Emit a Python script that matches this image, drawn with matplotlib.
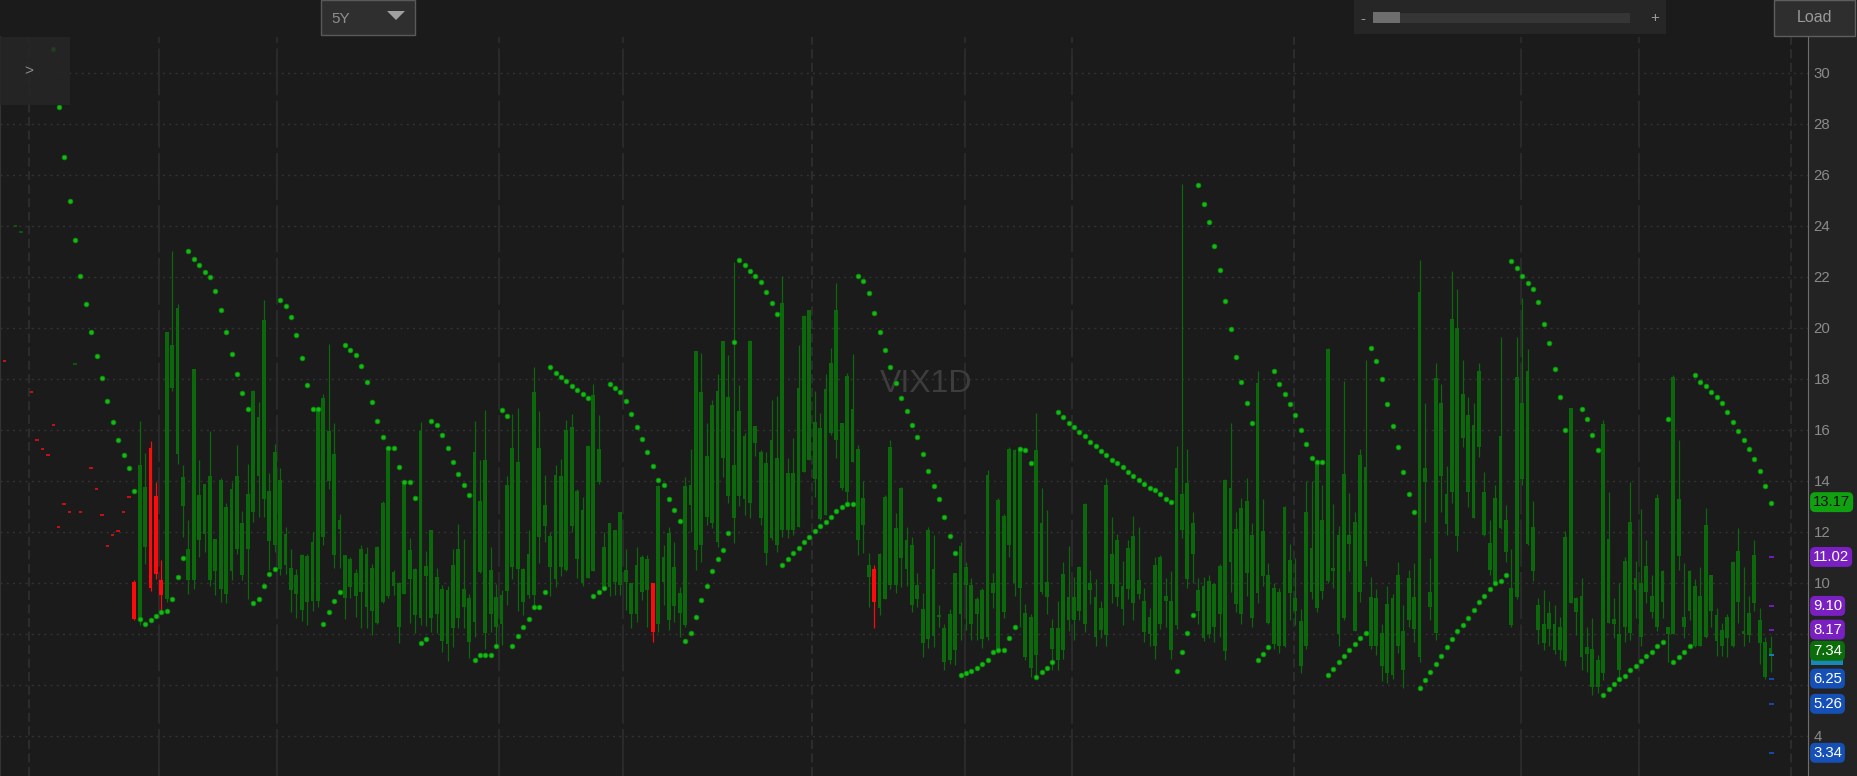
import numpy as np
import matplotlib.pyplot as plt
from matplotlib.patches import Rectangle, Polygon
from matplotlib.transforms import blended_transform_factory

plt.rcParams['font.family'] = ['Liberation Sans', 'DejaVu Sans']

W, H, DPI = 1857, 776, 100

# daily VIX1D candles, bar 0 = first bar on screen
highs = [
    10.1, 16.36, 15.1, 15.55, 13.97, 10.9, 19.85, 23.0, 20.95, 14.63,
    12.48, 18.4, 14.82, 13.9, 15.94, 11.74, 14.1, 13.14, 13.95, 15.4,
    12.84, 14.66, 17.57, 17.1, 21.1, 14.31, 15.45, 14.5, 12.2, 11.32,
    10.56, 11.15, 11.15, 12.0, 16.88, 17.4, 19.38, 16.27, 12.7, 11.1,
    11.0, 10.56, 11.47, 11.41, 10.76, 11.43, 13.2, 15.38, 10.5, 10.04,
    13.97, 11.76, 10.6, 16.3, 11.24, 12.08, 10.59, 9.91, 9.89, 11.34,
    12.32, 11.74, 9.55, 16.36, 14.83, 16.8, 11.41, 9.94, 9.72, 14.2,
    16.62, 16.88, 10.59, 12.06, 18.47, 16.75, 14.23, 12.0, 14.63, 14.88,
    16.38, 16.62, 13.69, 13.36, 15.4, 17.8, 16.58, 12.0, 12.36, 12.06,
    12.78, 11.32, 9.98, 11.41, 11.1, 11.1, 10.0, 13.85, 11.49, 12.2,
    11.62, 9.85, 14.17, 15.25, 19.08, 19.0, 16.27, 17.16, 18.2, 19.47,
    18.95, 22.6, 17.77, 15.9, 19.54, 16.14, 15.22, 15.15, 17.18, 17.35,
    22.05, 14.89, 15.68, 19.34, 20.52, 20.72, 17.51, 16.66, 18.2, 19.21,
    21.76, 16.27, 18.23, 18.99, 15.42, 13.98, 11.19, 10.7, 11.16, 13.45,
    15.61, 12.73, 13.78, 12.21, 11.82, 10.38, 9.59, 12.21, 11.88, 9.13,
    8.41, 8.96, 10.4, 11.62, 10.84, 10.18, 9.46, 9.79, 14.43, 10.4,
    13.35, 12.7, 15.32, 15.24, 15.39, 9.17, 8.78, 16.67, 13.72, 12.85,
    8.59, 9.31, 10.81, 11.44, 10.23, 10.67, 13.14, 10.52, 10.16, 9.31,
    14.11, 12.6, 11.93, 10.85, 11.68, 12.63, 12.19, 9.79, 9.02, 11.0,
    11.1, 10.18, 10.45, 15.39, 25.64, 15.24, 12.77, 10.18, 10.23, 10.3,
    9.98, 10.74, 14.08, 16.26, 12.77, 13.33, 14.11, 12.34, 18.3, 13.28,
    10.77, 10.01, 9.79, 13.03, 11.54, 10.96, 8.99, 14.0, 14.0, 14.81,
    13.86, 19.2, 13.09, 12.22, 17.93, 13.53, 12.77, 15.27, 18.73, 10.23,
    9.75, 8.41, 9.87, 9.58, 10.81, 9.14, 10.52, 10.77, 22.65, 17.06,
    10.96, 18.62, 17.79, 14.59, 22.22, 21.52, 18.73, 17.31, 17.06, 18.62,
    14.37, 12.48, 13.86, 19.63, 13.06, 11.35, 19.63, 21.17, 19.17, 13.21,
    9.4, 9.72, 9.31, 9.14, 8.67, 12.05, 16.87, 9.43, 10.19, 8.27,
    8.63, 7.18, 16.38, 13.57, 9.4, 9.98, 11.03, 13.97, 10.88, 12.92,
    11.68, 10.3, 13.47, 10.52, 8.27, 18.15, 15.61, 10.77, 10.52, 10.16,
    10.62, 12.95, 10.33, 9.0, 8.44, 8.78, 10.88, 12.16, 10.62, 9.5,
    11.68, 9.0, 7.89, 7.93,
]
lows = [
    8.55, 8.35, 10.75, 9.67, 10.17, 8.93, 9.26, 17.53, 14.66, 11.8,
    9.55, 9.78, 11.0, 11.2, 9.88, 9.52, 9.26, 9.2, 10.1, 11.15,
    10.1, 9.39, 12.41, 12.58, 12.58, 10.5, 11.2, 10.3, 10.37, 8.87,
    8.63, 8.5, 8.35, 8.9, 9.07, 11.47, 13.7, 10.6, 10.6, 8.58,
    9.4, 8.67, 8.22, 8.22, 7.96, 8.4, 9.2, 9.4, 9.52, 7.63,
    9.56, 8.42, 8.02, 8.35, 8.32, 8.09, 8.02, 7.28, 6.94, 7.5,
    8.22, 8.22, 7.04, 7.9, 10.4, 7.4, 8.09, 7.53, 7.57, 9.13,
    10.17, 8.9, 8.74, 9.4, 9.02, 10.78, 11.6, 9.5, 9.85, 10.28,
    10.46, 12.0, 10.2, 9.88, 10.2, 10.46, 13.88, 9.72, 9.48, 9.52,
    9.52, 8.93, 8.22, 8.48, 9.33, 8.28, 7.7, 8.09, 9.13, 8.15,
    8.48, 7.89, 8.28, 12.0, 10.5, 10.83, 12.27, 12.14, 11.42, 14.17,
    13.13, 11.55, 13.0, 12.67, 12.54, 14.96, 12.27, 10.7, 11.68, 11.23,
    11.81, 11.75, 11.88, 12.21, 14.37, 14.83, 13.39, 12.47, 12.67, 15.81,
    14.89, 13.65, 13.13, 14.76, 11.1, 11.16, 9.07, 8.22, 8.74, 9.39,
    9.75, 9.6, 9.86, 9.88, 8.87, 9.07, 7.1, 7.43, 7.5, 8.28,
    6.58, 6.84, 6.78, 7.76, 8.15, 7.76, 7.76, 7.43, 7.76, 9.0,
    7.25, 8.63, 11.03, 9.5, 8.27, 6.96, 6.31, 6.38, 9.58, 8.78,
    6.6, 6.6, 7.03, 8.12, 7.76, 8.53, 8.09, 9.17, 7.54, 7.83,
    7.54, 9.21, 9.11, 8.34, 9.36, 8.56, 9.36, 7.69, 7.54, 7.03,
    8.2, 8.27, 7.03, 8.2, 11.76, 9.79, 9.98, 8.41, 7.72, 7.86,
    7.69, 7.9, 6.99, 9.65, 8.85, 8.38, 9.5, 8.27, 9.21, 9.87,
    8.41, 7.4, 7.25, 7.47, 8.56, 8.34, 6.45, 7.4, 9.36, 8.85,
    9.36, 10.01, 9.79, 7.54, 8.56, 10.45, 8.12, 9.26, 10.67, 7.4,
    7.18, 6.16, 6.09, 6.23, 7.25, 5.87, 8.27, 7.69, 6.89, 12.41,
    8.56, 7.76, 12.8, 11.9, 13.14, 11.25, 15.32, 12.99, 12.56, 14.95,
    11.83, 10.3, 9.94, 12.12, 10.81, 8.27, 9.36, 13.86, 11.49, 10.08,
    7.61, 7.37, 7.54, 7.22, 6.99, 6.74, 9.21, 7.95, 6.6, 6.52,
    5.62, 5.68, 6.2, 8.44, 7.86, 6.16, 7.69, 7.76, 8.63, 7.54,
    9.21, 8.63, 8.12, 8.63, 6.89, 7.98, 10.52, 7.86, 8.53, 7.47,
    7.54, 7.86, 8.27, 7.13, 7.13, 7.08, 7.47, 8.44, 7.54, 7.69,
    8.92, 6.81, 6.24, 6.52,
]
body_top = [
    10.04, 14.63, 13.75, 15.3, 13.4, 10.13, 19.85, 19.35, 20.8, 14.17,
    11.34, 18.4, 13.43, 13.9, 14.18, 11.74, 14.04, 12.97, 13.7, 14.2,
    12.36, 13.47, 17.53, 16.5, 20.33, 13.6, 15.15, 14.04, 11.93, 10.6,
    10.33, 11.08, 11.05, 11.6, 16.88, 17.24, 15.94, 15.05, 12.45, 11.08,
    10.95, 10.4, 11.34, 11.15, 10.6, 11.4, 13.14, 15.3, 10.43, 10.0,
    13.97, 11.3, 10.56, 15.94, 10.67, 12.08, 10.24, 9.78, 9.72, 10.72,
    11.32, 9.78, 9.42, 15.15, 13.2, 14.82, 10.5, 9.46, 9.52, 13.84,
    15.31, 14.73, 10.56, 11.15, 17.49, 15.31, 13.04, 11.83, 14.25, 14.2,
    15.99, 16.13, 13.6, 12.87, 15.38, 17.36, 15.25, 11.41, 12.36, 12.06,
    12.78, 10.52, 9.98, 10.72, 11.03, 10.93, 10.0, 13.8, 11.03, 11.95,
    10.61, 9.62, 13.81, 13.85, 19.08, 17.47, 14.96, 16.99, 17.51, 19.47,
    17.31, 14.63, 16.76, 15.77, 19.47, 16.14, 15.15, 14.7, 15.61, 14.89,
    20.98, 14.3, 14.33, 17.64, 20.46, 20.69, 16.33, 16.07, 17.6, 18.62,
    20.72, 16.27, 18.13, 16.82, 15.25, 13.32, 10.7, 10.53, 11.14, 13.36,
    15.35, 12.14, 13.72, 11.69, 11.49, 9.92, 8.96, 12.08, 10.53, 8.74,
    8.22, 8.8, 10.4, 11.45, 10.61, 9.92, 9.39, 9.72, 14.24, 10.0,
    13.24, 12.63, 15.27, 15.22, 15.32, 8.82, 8.67, 15.22, 12.37, 10.04,
    8.24, 8.24, 10.37, 9.46, 9.46, 10.62, 13.09, 9.98, 9.46, 9.02,
    13.86, 11.15, 11.68, 9.89, 11.39, 11.83, 10.13, 9.31, 8.67, 10.71,
    11.03, 9.5, 9.31, 14.49, 13.47, 13.91, 12.37, 9.72, 9.87, 10.08,
    9.94, 10.67, 14.05, 13.72, 12.12, 12.95, 13.21, 11.87, 17.83, 12.05,
    10.3, 9.79, 9.65, 12.99, 10.91, 9.4, 8.49, 12.8, 11.39, 14.69,
    12.48, 19.18, 10.59, 11.87, 14.26, 11.87, 12.41, 15.03, 14.55, 9.46,
    9.4, 8.05, 9.17, 9.4, 10.33, 8.12, 10.19, 9.46, 21.42, 14.49,
    9.65, 18.03, 17.06, 13.47, 20.36, 20.01, 17.4, 16.58, 16.19, 18.33,
    13.57, 11.58, 13.33, 15.75, 12.48, 9.79, 18.08, 17.06, 18.33, 12.19,
    9.14, 8.38, 8.82, 8.41, 8.27, 11.79, 16.87, 9.4, 9.5, 7.47,
    7.42, 6.99, 16.23, 11.73, 8.59, 8.0, 10.88, 12.41, 10.19, 9.98,
    10.67, 9.5, 13.33, 10.48, 8.27, 18.08, 13.28, 8.67, 10.48, 9.87,
    9.5, 12.27, 10.3, 8.73, 8.15, 8.67, 10.81, 11.25, 8.12, 8.82,
    11.1, 8.53, 7.69, 7.45,
]
body_bot = [
    8.58, 8.58, 11.4, 9.8, 10.37, 9.52, 9.36, 17.63, 15.05, 13.0,
    10.13, 10.1, 11.67, 11.93, 10.1, 10.46, 9.78, 9.55, 10.46, 11.34,
    10.3, 11.34, 12.78, 14.2, 13.3, 11.63, 11.5, 10.54, 10.7, 9.72,
    9.55, 8.93, 9.26, 9.29, 9.29, 11.8, 14.0, 11.1, 12.1, 9.4,
    9.85, 9.48, 9.65, 9.07, 8.9, 8.42, 9.26, 9.5, 9.9, 8.29,
    9.56, 10.17, 8.74, 8.63, 10.27, 8.63, 8.78, 7.72, 7.59, 8.22,
    8.63, 9.07, 7.7, 8.48, 10.43, 8.05, 8.8, 8.29, 8.41, 9.67,
    10.63, 10.54, 9.26, 9.52, 9.52, 11.8, 12.22, 10.63, 10.17, 10.63,
    10.5, 12.25, 10.95, 10.0, 10.21, 10.46, 13.95, 9.8, 9.85, 10.04,
    9.91, 10.04, 8.8, 8.8, 9.66, 9.72, 8.09, 8.41, 10.05, 8.54,
    9.09, 8.83, 8.35, 13.06, 11.3, 11.49, 12.6, 12.34, 11.62, 14.89,
    13.41, 12.54, 13.41, 13.28, 13.13, 15.48, 12.54, 11.16, 11.75, 11.49,
    12.08, 12.08, 12.08, 12.21, 14.37, 14.83, 14.07, 12.5, 12.67, 15.87,
    15.61, 13.72, 13.58, 14.76, 11.69, 12.27, 10.25, 9.27, 9.0, 9.39,
    9.92, 9.92, 10.96, 10.54, 9.13, 9.39, 7.65, 7.82, 7.92, 8.67,
    6.91, 6.97, 7.37, 8.8, 9.92, 8.41, 8.8, 7.82, 7.89, 9.6,
    7.32, 8.85, 11.47, 9.98, 9.79, 7.1, 6.67, 7.18, 9.65, 9.46,
    7.4, 6.99, 7.37, 8.56, 8.56, 8.92, 8.38, 9.72, 7.9, 8.15,
    7.95, 9.94, 9.43, 8.99, 9.75, 9.21, 9.58, 8.09, 7.98, 7.51,
    8.41, 9.31, 7.37, 8.34, 12.08, 10.16, 11.15, 8.92, 7.83, 7.98,
    8.27, 8.78, 7.32, 10.81, 9.17, 8.78, 10.38, 8.63, 9.6, 10.27,
    8.44, 7.61, 7.54, 7.54, 9.6, 8.92, 6.74, 7.51, 9.65, 9.0,
    9.69, 10.08, 10.45, 7.98, 8.63, 11.54, 8.12, 9.65, 10.85, 7.54,
    7.51, 6.74, 6.45, 6.41, 7.54, 6.6, 8.56, 8.2, 7.08, 13.94,
    9.07, 8.05, 14.2, 12.31, 13.57, 11.83, 15.68, 13.57, 12.56, 15.32,
    11.9, 10.52, 10.01, 12.16, 11.2, 8.34, 9.43, 14.08, 11.54, 10.45,
    8.15, 7.66, 8.2, 7.37, 7.37, 6.93, 9.21, 8.88, 7.08, 7.22,
    5.91, 5.91, 6.45, 8.44, 8.41, 6.6, 8.27, 8.05, 9.72, 7.9,
    9.65, 8.88, 8.27, 9.26, 7.98, 7.98, 11.06, 8.27, 8.92, 7.54,
    7.54, 7.9, 8.92, 7.72, 7.51, 7.83, 7.54, 9.26, 7.98, 7.95,
    9.21, 7.66, 6.32, 7.22,
]
down_bars = [0, 3, 4, 5, 96, 137]

# parabolic SAR dots, first value belongs to bar -15
sar_first = -15
sar = [
    30.94, 28.67, 26.71, 24.98, 23.44, 22.05, 20.93, 19.86, 18.89, 18.04,
    17.15, 16.3, 15.62, 15.02, 14.5,
    13.6, 8.58, 8.39, 8.55, 8.7, 8.86, 8.91, 9.39, 10.22, 10.97,
    23.0, 22.72, 22.45, 22.2, 21.98, 21.46, 20.72, 19.83, 18.97, 18.19,
    17.45, 16.83, 9.22, 9.39, 9.87, 10.34, 10.54, 21.08, 20.88, 20.42,
    19.72, 18.82, 17.76, 16.83, 16.83, 8.39, 8.86, 9.29, 9.64, 19.35,
    19.13, 18.93, 18.5, 17.88, 17.09, 16.36, 15.72, 15.3, 15.3, 14.56,
    13.97, 13.97, 13.35, 7.65, 7.8, 16.36, 16.19, 15.81, 15.3, 14.76,
    14.29, 13.86, 13.45, 6.96, 7.18, 7.18, 7.18, 7.53, 16.77, 16.55,
    7.53, 7.92, 8.26, 8.58, 9.07, 9.07, 9.64, 18.47, 18.24, 18.08,
    17.92, 17.72, 17.55, 17.4, 17.24, 9.48, 9.64, 9.81, 17.81, 17.66,
    17.49, 17.14, 16.62, 16.12, 15.63, 15.15, 14.57, 14.04, 13.83, 13.31,
    12.88, 12.44, 7.73, 8.05, 8.67, 9.33, 9.9, 10.48, 10.95, 11.28,
    11.97, 19.45, 22.68, 22.46, 22.25, 22.04, 21.82, 21.4, 20.98, 20.56,
    10.7, 10.95, 11.19, 11.38, 11.61, 11.82, 12.04, 12.24, 12.41, 12.6,
    12.82, 12.99, 13.09, 13.09, 22.05, 21.83, 21.36, 20.57, 19.83, 19.12,
    18.45, 17.86, 17.27, 16.75, 16.21, 15.74, 15.04, 14.41, 13.82, 13.31,
    12.6, 11.86, 11.19, 6.4, 6.47, 6.55, 6.65, 6.84, 6.96, 7.28,
    7.37, 7.37, 7.86, 8.27, 15.27, 15.22, 14.69, 6.3, 6.52, 6.67,
    6.89, 16.7, 16.49, 16.26, 16.12, 15.91, 15.75, 15.53, 15.36, 15.16,
    15.0, 14.84, 14.69, 14.55, 14.37, 14.2, 14.04, 13.89, 13.73, 13.63,
    13.47, 13.31, 13.19, 6.55, 7.28, 8.05, 8.73, 25.61, 24.87, 24.17,
    23.21, 22.26, 21.06, 19.94, 18.88, 17.9, 17.06, 16.26, 6.99, 7.22,
    7.47, 18.3, 17.82, 17.4, 17.02, 16.6, 16.01, 15.43, 14.9, 14.74,
    14.74, 6.41, 6.63, 6.89, 7.15, 7.37, 7.61, 7.83, 8.05, 19.2,
    18.72, 17.98, 17.02, 16.17, 15.32, 14.37, 13.5, 12.77, 5.9, 6.2,
    6.51, 6.81, 7.13, 7.47, 7.79, 8.12, 8.37, 8.63, 8.95, 9.24,
    9.5, 9.75, 10.01, 10.06, 10.33, 22.63, 22.37, 22.05, 21.78, 21.52,
    21.0, 20.14, 19.4, 18.4, 17.28, 16.01, np.nan, np.nan, 16.84, 16.44,
    15.8, 15.21, 5.62, 5.83, 6.04, 6.23, 6.36, 6.57, 6.74, 6.94,
    7.15, 7.29, 7.51, 7.69, 16.44, 6.89, 7.1, 7.29, 7.51, 18.14,
    17.9, 17.72, 17.5, 17.28, 17.06, 16.7, 16.33, 15.94, 15.59, 15.27,
    14.88, 14.4, 13.79, 13.15,
]

# faint leftover ticks before the first bar
ghost_red_bar = [-24, -19, -18, -17, -16, -15, -14, -13, -12, -10, -8, -7, -6, -5, -4, -3, -2, -1]
ghost_red_val = [18.7, 17.48, 15.6, 15.24, 15.0, 16.2, 12.2, 13.1, 12.8, 12.78,
                 14.5, 13.7, 12.66, 11.45, 11.9, 12.04, 12.8, 13.37]
ghost_green_bar = [-22, -21, -11]
ghost_green_val = [24.0, 23.76, 18.57]

# date separators (bar positions)
month_lines = [4.57, 26.4, 67.5, 90.5, 153.8, 173.6, 256.8, 278.6]
quarter_lines = [-19.5, 125.5, 214.8, 306.8]

# right-edge study levels
level_values = [11.02, 9.10, 8.17, 6.25, 5.26, 3.34]
level_colors = ['#7a1fc2', '#7a1fc2', '#7a1fc2', '#1450b6', '#1450b6', '#1450b6']
hidden_level = 7.17
last_sar = 13.17
last_close = 7.34

BG = '#1b1b1b'
PANEL = '#232323'
UP = '#0b690b'
DOWN = '#ff0a0a'
CYAN = '#1788b8'

fig = plt.figure(figsize=(W / DPI, H / DPI), dpi=DPI, facecolor=BG)


def rect(x0, y0, x1, y1, z=1, **kw):
    r = Rectangle((x0 / W, 1 - y1 / H), (x1 - x0) / W, (y1 - y0) / H,
                  transform=fig.transFigure, zorder=z, **kw)
    fig.add_artist(r)


plot_right, plot_top = 1808, 37
rect(plot_right, plot_top, W, H, z=-1, fc=PANEL, ec='none')

ax = fig.add_axes([0, 0, plot_right / W, 1 - plot_top / H])
ax.set_facecolor(BG)

# grid
for v in range(4, 31, 2):
    ax.axhline(v, color='#323232', lw=1, ls=(0, (1.5, 3)), zorder=1)
for xv in month_lines:
    ax.axvline(xv, color='#2c2c2c', lw=1.3, ls=(0, (26, 3)), zorder=1)
for xv in quarter_lines:
    ax.axvline(xv, color='#2e2e2e', lw=1.3, ls=(0, (5, 2.5)), zorder=1)

ax.text(0.512, 0.530, 'VIX1D', transform=ax.transAxes, ha='center', va='center',
        fontsize=23, color='#3d3d3d', zorder=2)

# candles
n = len(highs)
x = np.arange(n)
hi, lo = np.array(highs), np.array(lows)
top, bot = np.array(body_top), np.array(body_bot)
colors = [DOWN if i in down_bars else UP for i in range(n)]
ax.vlines(x, lo, hi, colors=colors, lw=0.9, zorder=3)
ax.bar(x, np.maximum(top - bot, 0.07), bottom=bot, width=0.74, color=colors, lw=0, zorder=4)

# ghost ticks
ax.hlines(ghost_red_val, np.array(ghost_red_bar) - 0.3, np.array(ghost_red_bar) + 0.3,
          colors='#c81010', lw=1.4, zorder=3)
ax.hlines(ghost_green_val, np.array(ghost_green_bar) - 0.3, np.array(ghost_green_bar) + 0.3,
          colors='#0a5a0a', lw=1.4, zorder=3)

# SAR
sar_x = np.arange(len(sar)) + sar_first
ax.plot(sar_x, sar, ls='none', marker='o', ms=3.4, mfc='#14bb14', mec='#0b8c0b',
        mew=0.6, zorder=5)

# right-edge level ticks
ax.hlines(level_values + [hidden_level], n - 1.3, n - 0.3,
          colors=level_colors + [CYAN], lw=1.3, zorder=6)

ax.set_xlim(-134.3 / 5.4, (plot_right - 134.3) / 5.4)
ax.set_ylim(2.43, 31.41)
ax.set_xticks([])
ax.yaxis.tick_right()
yt = list(range(4, 31, 2))
ax.set_yticks(yt)
# 6 and 8 sit under the price bubbles
ax.set_yticklabels(['' if t in (6, 8) else str(t) for t in yt])
ax.tick_params(axis='y', length=0, pad=4, labelsize=10.8, labelcolor='#8a8a8a')
ax.spines['top'].set_visible(False)
ax.spines['right'].set_color('#6e6e6e')
ax.spines['left'].set_color('#333333')
ax.spines['left'].set_linewidth(1.5)
ax.spines['bottom'].set_color('#383838')

# price bubbles
tr = blended_transform_factory(ax.transAxes, ax.transData)
ax.add_patch(Rectangle((1.0014, hidden_level - 0.38), 0.0180, 0.76, transform=tr,
                       fc=CYAN, ec='none', clip_on=False, zorder=9))
bubbles = [(v, c, 'white') for v, c in zip(level_values, level_colors)]
bubbles.append((last_close, '#0b6e0b', 'white'))
bubbles.append((last_sar, '#10a010', '#111111'))
for k, (v, fc, tc) in enumerate(bubbles):
    ax.text(1.0028, v, f'{v:.2f}', transform=tr, ha='left', va='center', fontsize=10.7,
            color=tc, clip_on=False, zorder=10 + k,
            bbox=dict(boxstyle='round,pad=0.2,rounding_size=0.35', fc=fc, ec='none'))

# header widgets
rect(321, 0, 415, 35, fc='#2f2f2f', ec='#595959', lw=1)
fig.text(331 / W, 1 - 19 / H, '5Y', ha='left', va='center', fontsize=11, color='#8f8f8f')
fig.add_artist(Polygon([(387 / W, 1 - 11 / H), (405 / W, 1 - 11 / H), (396 / W, 1 - 20 / H)],
                       closed=True, transform=fig.transFigure, fc='#a0a0a0', ec='none'))

rect(1354, 0, 1666, 34, fc='#262626', ec='none')
rect(1373, 13, 1630, 23, fc='#353535', ec='none')
rect(1373, 12, 1400, 23, fc='#6e6e6e', ec='none')
fig.text(1363 / W, 1 - 19 / H, '-', ha='center', va='center', fontsize=11, color='#9a9a9a')
fig.text(1655 / W, 1 - 18 / H, '+', ha='center', va='center', fontsize=11, color='#9a9a9a')

rect(1774, 0, 1855, 36, fc='#2e2e2e', ec='#5e5e5e', lw=1)
fig.text(1814 / W, 1 - 18 / H, 'Load', ha='center', va='center', fontsize=11.5, color='#9a9a9a')

rect(0, 37, 70, 105, z=5, fc='#262626', ec='none', alpha=0.85)
fig.text(29 / W, 1 - 71 / H, '>', ha='center', va='center', fontsize=11, color='#8a8a8a', zorder=6)

fig.savefig('out.png', dpi=DPI, facecolor=BG)
